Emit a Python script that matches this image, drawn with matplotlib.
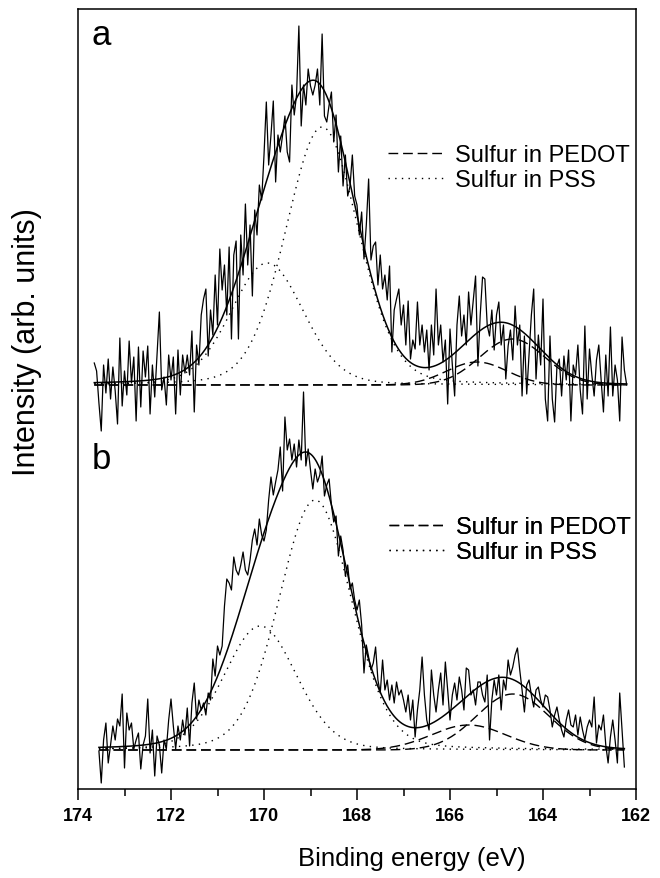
import numpy as np
import matplotlib
matplotlib.use("Agg")
import matplotlib.pyplot as plt
from matplotlib.ticker import MultipleLocator

plt.rcParams['font.family'] = ['Liberation Sans', 'DejaVu Sans']

# S 2p spectra, intensity above each baseline (arb. units), 0.05 eV steps
energy_a = (173.65, 162.20)
counts_a = [
    22, 14, -18, -46, 20, -8, 26, -14, 18, -6,
    -39, 47, -21, 14, -10, 44, 2, 28, -36, 38,
    -22, 34, 8, 39, -29, 20, -12, 30, 73, -5,
    8, -20, 30, 5, 28, -29, 35, -10, 30, 12,
    30, 10, 54, -27, 40, 20, 70, 86, 96, 29,
    75, 50, 110, 60, 136, 95, 120, 70, 138, 46,
    130, 144, 46, 150, 110, 181, 120, 160, 89, 175,
    150, 200, 185, 230, 283, 220, 250, 284, 203, 250,
    233, 250, 269, 233, 223, 300, 270, 290, 359, 259,
    300, 280, 316, 299, 290, 300, 316, 280, 351, 269,
    263, 280, 293, 243, 270, 213, 249, 199, 230, 189,
    199, 230, 189, 180, 150, 173, 126, 160, 206, 125,
    139, 143, 100, 130, 96, 110, 85, 119, 33, 75,
    86, 96, 60, 80, 40, 84, 26, 45, 36, 83,
    40, 60, 33, 55, 15, 60, 30, 96, 40, 60,
    23, 45, -19, 56, 20, -11, 60, 89, 49, 70,
    40, 93, 60, 85, 109, 19, 70, 108, 106, 60,
    49, 75, 35, 70, 83, 40, 60, 6, 39, 55,
    25, 79, 40, 60, -11, 49, -9, 30, 70, 96,
    6, 50, 20, 86, -14, -36, 49, -14, -37, 19,
    26, -11, 29, 5, 35, -36, 20, 10, 40, -5,
    -29, 59, -14, 36, 10, -11, 25, 40, 5, -27,
    30, -11, 58, -11, 20, 5, -36, 48, 15, 0,
]
energy_b = (173.55, 162.25)
counts_b = [
    -1, -33, 10, 27, -13, 5, 24, 10, 31, 24,
    56, -18, 37, 20, 27, 1, 10, 17, -19, 5,
    14, 51, -3, 20, -26, 14, 5, -23, 10, 1,
    30, 51, 24, 1, 24, 10, 30, 15, 42, 4,
    47, 67, 31, 50, 40, 47, 35, 57, 50, 91,
    74, 104, 95, 104, 144, 171, 167, 160, 193, 180,
    175, 185, 198, 180, 175, 190, 210, 221, 205, 231,
    215, 209, 220, 250, 273, 255, 268, 280, 303, 259,
    333, 300, 311, 290, 306, 283, 310, 290, 358, 284,
    301, 280, 261, 281, 268, 275, 294, 254, 265, 271,
    245, 228, 234, 194, 214, 200, 174, 185, 161, 167,
    150, 140, 150, 125, 77, 105, 93, 80, 87, 103,
    70, 57, 90, 60, 70, 50, 65, 47, 68, 55,
    60, 50, 38, 55, 30, 50, 13, 40, 60, 93,
    55, 30, 20, 80, 55, 38, 60, 77, 45, 88,
    60, 30, 55, 67, 50, 73, 60, 40, 82, 80,
    55, 60, 45, 68, 68, 55, 48, 75, 10, 50,
    70, 55, 75, 40, 70, 60, 90, 75, 83, 95,
    102, 80, 60, 38, 65, 70, 55, 43, 60, 63,
    50, 43, 55, 53, 40, 23, 35, 43, 30, 20,
    13, 30, 40, 25, 23, 35, 15, 33, 20, 10,
    23, 30, 23, 53, 7, 25, 20, 35, 5, -13,
    13, 30, 10, -13, 57, 20, -17,
]

# vertical offsets of the two spectra
offset_a = 404
offset_b = 39

# fitted components: centre (eV), height, width sigma (eV), Lorentzian share
pss_a = [(168.75, 258, 0.78, 0.15), (169.93, 122, 0.78, 0.15)]
pedot_a = [(164.66, 46, 0.70, 0.0), (165.42, 23, 0.65, 0.0)]
pss_b = [(168.90, 250, 0.78, 0.15), (170.08, 124, 0.78, 0.15)]
pedot_b = [(164.65, 56, 0.78, 0.0), (165.60, 25, 0.80, 0.0)]

legend_labels = ["Sulfur in PEDOT", "Sulfur in PSS"]


def peak(x, centre, height, sigma, eta):
    g = np.exp(-(x - centre) ** 2 / (2 * sigma ** 2))
    gamma = sigma * np.sqrt(2 * np.log(2))
    l = 1 / (1 + ((x - centre) / gamma) ** 2)
    return height * ((1 - eta) * g + eta * l)


fig = plt.figure(figsize=(6.6, 8.79), dpi=100)
ax = fig.add_axes([78 / 660, 89 / 879, 558 / 660, 780 / 879])

dash = (0, (7, 3.5))
dot = (0, (1, 3.8))

panels = [
    (energy_a, counts_a, offset_a, pss_a, pedot_a),
    (energy_b, counts_b, offset_b, pss_b, pedot_b),
]
legend_pos = [(0.555, 0.827), (0.557, 0.350)]

for (e_range, counts, off, pss, pedot), lpos in zip(panels, legend_pos):
    x = np.linspace(e_range[0], e_range[1], len(counts))
    ax.plot(x, np.array(counts) + off, color='black', lw=0.9)

    xf = np.linspace(e_range[0], e_range[1], 800)
    total = np.zeros_like(xf)
    h_pedot = h_pss = None
    for p in pedot:
        y = peak(xf, *p)
        total += y
        h_pedot, = ax.plot(xf, y + off, color='black', lw=1.0, linestyle=dash)
    for p in pss:
        y = peak(xf, *p)
        total += y
        h_pss, = ax.plot(xf, y + off, color='black', lw=1.0, linestyle=dot)
    ax.plot(xf, total + off, color='black', lw=1.1)

    leg = ax.legend([h_pedot, h_pss], legend_labels, loc='upper left',
                    bbox_to_anchor=lpos, frameon=False, fontsize=17,
                    handlelength=2.4, handletextpad=0.45, borderpad=0,
                    borderaxespad=0, labelspacing=0.12)
    ax.add_artist(leg)

ax.text(0.025, 0.955, "a", transform=ax.transAxes, fontsize=25)
ax.text(0.025, 0.4115, "b", transform=ax.transAxes, fontsize=25)

ax.set_xlim(174, 162)
ax.set_ylim(0, 780)
ax.set_yticks([])
ax.xaxis.set_major_locator(MultipleLocator(2))
ax.xaxis.set_minor_locator(MultipleLocator(1))
ax.tick_params(axis='x', which='major', direction='out', length=8, width=1.1,
               pad=5, labelsize=13)
ax.tick_params(axis='x', which='minor', direction='out', length=5, width=1.1)
for lab in ax.get_xticklabels():
    lab.set_fontweight('bold')
for s in ax.spines.values():
    s.set_linewidth(1.1)

ax.set_xlabel("Binding energy (eV)", fontsize=18.5)
ax.xaxis.set_label_coords(0.599, -0.073)
ax.set_ylabel("Intensity (arb. units)", fontsize=22)
ax.yaxis.set_label_coords(-0.064, 0.574)

fig.savefig("out.png", dpi=100)
